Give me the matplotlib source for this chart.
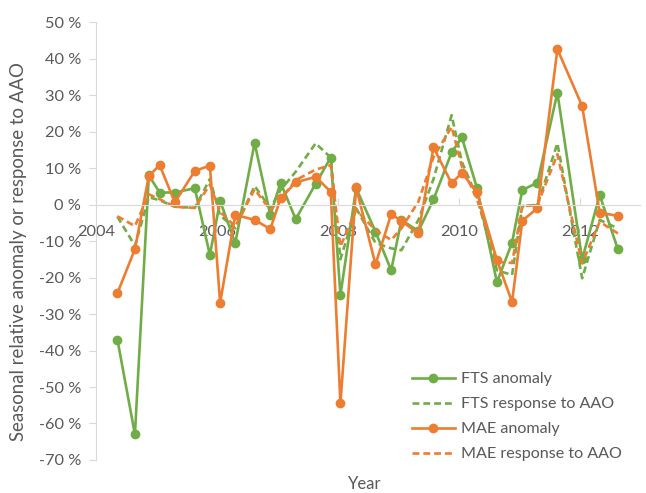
import matplotlib.pyplot as plt
from matplotlib.ticker import FuncFormatter

plt.rcParams['font.family'] = ['Lato', 'DejaVu Sans']

# seasonal sample dates (decimal years)
years = [2004.35, 2004.64, 2004.87,
         2005.05, 2005.30, 2005.63, 2005.88,
         2006.05, 2006.30, 2006.62, 2006.88,
         2007.05, 2007.30, 2007.63, 2007.88,
         2008.04, 2008.30, 2008.62, 2008.88,
         2009.05, 2009.33, 2009.58, 2009.88,
         2010.05, 2010.30, 2010.63, 2010.88,
         2011.05, 2011.30, 2011.63,
         2012.04, 2012.33, 2012.63]

fts_anomaly = [-37, -63, 8,
               3.3, 3.3, 4.5, -13.8,
               1, -10.6, 16.9, -2.9,
               6, -4, 5.7, 12.9,
               -24.8, 4.5, -7.4, -18,
               -4.2, -7.3, 1.4, 14.3,
               18.4, 4.5, -21.3, -10.4,
               4, 6, 30.7,
               -15, 2.6, -12.2]

fts_response = [-3.3, -11.3, 2,
                1.2, -0.6, -0.9, 7,
                -3, -6.5, 5.1, -1,
                4, 9, 16.8, 12.9,
                -15, -1, -10.5, -12,
                -12.5, -4.2, 7, 24.5,
                11.7, 2, -18, -19.3,
                -0.4, -0.1, 16.8,
                -20.2, -4.2, -6.5]

mae_anomaly = [-24.3, -12.2, 7.9,
               10.8, 0.6, 9.2, 10.7,
               -26.9, -2.8, -4.2, -6.7,
               1.7, 6.1, 7.6, 3.5,
               -54.5, 4.7, -16.4, -2.6,
               -4.5, -7.9, 15.7, 5.8,
               8.7, 3.4, -15.2, -26.7,
               -4.4, -1.0, 42.6,
               27.0, -2.2, -3.1]

mae_response = [-3.2, -5.9, 2.8,
                1.5, -0.6, -0.9, 5.5,
                -2, -6, 4.2, -1.5,
                1.5, 6.7, 9.6, 10.8,
                -11.5, -1.5, -7, -9.7,
                -6.5, 0.8, 13, 21.3,
                10.4, 1.5, -15.7, -16,
                -0.4, -0.1, 13.8,
                -16.1, -4.7, -7.9]

green = '#70AD47'
orange = '#ED7D31'
grey_txt = '#595959'
grey_ax = '#D9D9D9'
dash = (0, (2.6, 1.5))

fig = plt.figure(figsize=(6.46, 4.93), dpi=100)
ax = fig.add_axes([0.149, 0.067, 0.842, 0.888])

ax.plot(years, fts_anomaly, color=green, lw=1.9, marker='o', ms=6, label='FTS anomaly')
ax.plot(years, fts_response, color=green, lw=1.9, ls=dash, label='FTS response to AAO')
ax.plot(years, mae_anomaly, color=orange, lw=1.9, marker='o', ms=6, label='MAE anomaly')
ax.plot(years, mae_response, color=orange, lw=1.9, ls=dash, label='MAE response to AAO')

ax.set_xlim(2004, 2013)
ax.set_ylim(-70, 50)
ax.set_xticks([2004, 2006, 2008, 2010, 2012])
ax.set_yticks(range(-70, 51, 10))
ax.yaxis.set_major_formatter(FuncFormatter(lambda v, p: f'{v:.0f} %'))

ax.spines['top'].set_visible(False)
ax.spines['right'].set_visible(False)
ax.spines['bottom'].set_position(('data', 0))
ax.spines['bottom'].set_color(grey_ax)
ax.spines['left'].set_color(grey_ax)

ax.tick_params(axis='x', direction='in', length=5, color=grey_ax, labelsize=11.8,
               labelcolor=grey_txt, pad=15)
ax.tick_params(axis='y', direction='out', length=5, color=grey_ax, labelsize=11.8,
               labelcolor=grey_txt, pad=6)

ax.set_xlabel('Year', fontsize=12, color=grey_txt)
ax.xaxis.set_label_coords(0.494, -0.036)
ax.set_ylabel('Seasonal relative anomaly or response to AAO', fontsize=13.4, color=grey_txt)
ax.yaxis.set_label_coords(-0.128, 0.476)

ax.legend(loc='upper left', bbox_to_anchor=(0.565, 0.219), frameon=False, fontsize=11.6,
          handlelength=2.7, labelspacing=0.66, handletextpad=0.35, borderpad=0,
          labelcolor=grey_txt)

fig.savefig('out.png', dpi=100)
